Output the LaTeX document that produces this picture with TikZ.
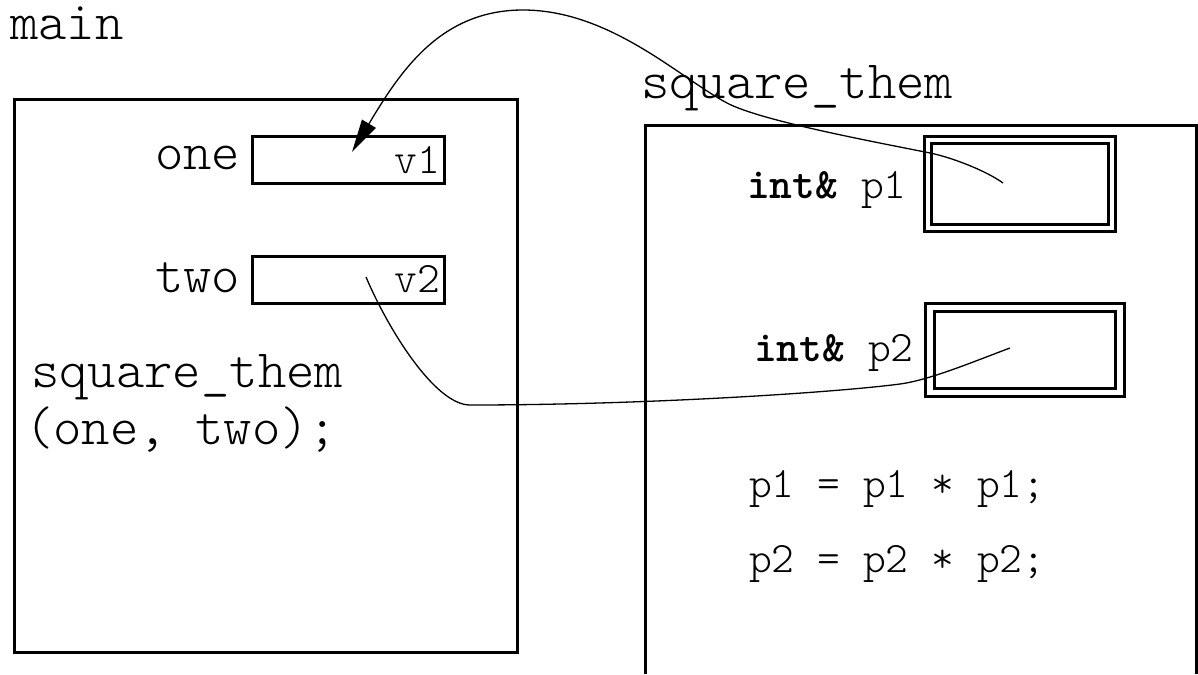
\documentclass[tikz,border=0pt]{standalone}
\usetikzlibrary{arrows.meta}
\begin{document}
\begin{tikzpicture}[x=1pt,y=-1pt,
  frame/.style={line width=3pt},
  bigtt/.style={font=\fontsize{54}{60}\fontseries{l}\ttfamily\selectfont, inner sep=0pt},
  smalltt/.style={font=\fontsize{43.4}{50}\fontseries{l}\ttfamily\selectfont, inner sep=0pt},
  cell/.style={draw, line width=3pt, rectangle, inner sep=0pt},
  refcell/.style={draw, line width=3pt, double, rectangle, inner sep=0pt},
  link/.style={line width=1.3pt}
]
\useasboundingbox (0,0) rectangle (1198,674);

% frame of main
\node[cell, minimum width=503pt, minimum height=552pt] (mainframe) at (265.5,376) {};
\node[bigtt, anchor=base west] (mainlbl) at (10,40) {main};

% variables of main
\node[cell, minimum width=192pt, minimum height=47pt] (onebox) at (348,159.5) {};
\node[cell, minimum width=192pt, minimum height=47pt] (twobox) at (348,279.5) {};
\node[bigtt, anchor=base west] (onelbl) at (155,169) {one};
\node[bigtt, anchor=base west] (twolbl) at (155,292) {two};
\node[smalltt, anchor=base east] (v1) at (440,173) {v1};
\node[smalltt, anchor=base east] (v2) at (440,292) {v2};

% call
\node[bigtt, anchor=base west] (call1) at (31,387) {square\_them};
\node[bigtt, anchor=base west] (call2) at (25,444) {(one, two);};

% frame of square_them (open at the bottom)
\coordinate (fbl) at (645,674);
\coordinate (ftl) at (645,125);
\coordinate (ftr) at (1196,125);
\coordinate (fbr) at (1196,674);
\draw[frame] (fbl) -- (ftl) -- (ftr) -- (fbr);
\node[bigtt, anchor=base west] (sqlbl) at (641,99) {square\_them};

% reference parameters
\node[refcell, double distance=4pt, minimum width=184.5pt, minimum height=88pt] (p1box) at (1019.75,183.5) {};
\node[refcell, double distance=5.5pt, minimum width=190pt, minimum height=85pt] (p2box) at (1025,350) {};
\node[smalltt, anchor=base west] (p1lbl) at (747,198) {{\fontseries{b}\selectfont int\&} p1};
\node[smalltt, anchor=base west] (p2lbl) at (754,361) {{\fontseries{b}\selectfont int\&} p2};

% body
\node[smalltt, anchor=base west] (stmt1) at (749,497) {p1 = p1 * p1;};
\node[smalltt, anchor=base west] (stmt2) at (749,572) {p2 = p2 * p2;};

% ends of the reference links
\coordinate (p1in) at (1003,183);
\coordinate (v1in) at (352,152);
\coordinate (v2in) at (366,277);
\coordinate (p2in) at (1010,348);

\draw[link, -{Triangle[length=33pt,width=16pt]}] (p1in)
  .. controls (985,170) and (950,157) .. (930,153)
  .. controls (870,141) and (760,120.5) .. (727,103)
  .. controls (680,78) and (610,10) .. (523,10)
  .. controls (440,10) and (400,72) .. (v1in);

\draw[link] (v2in)
  .. controls (388,329) and (435,405) .. (470,405)
  .. controls (650,405) and (840,392) .. (900,384)
  .. controls (930,380) and (975,361) .. (p2in);
\end{tikzpicture}
\end{document}
